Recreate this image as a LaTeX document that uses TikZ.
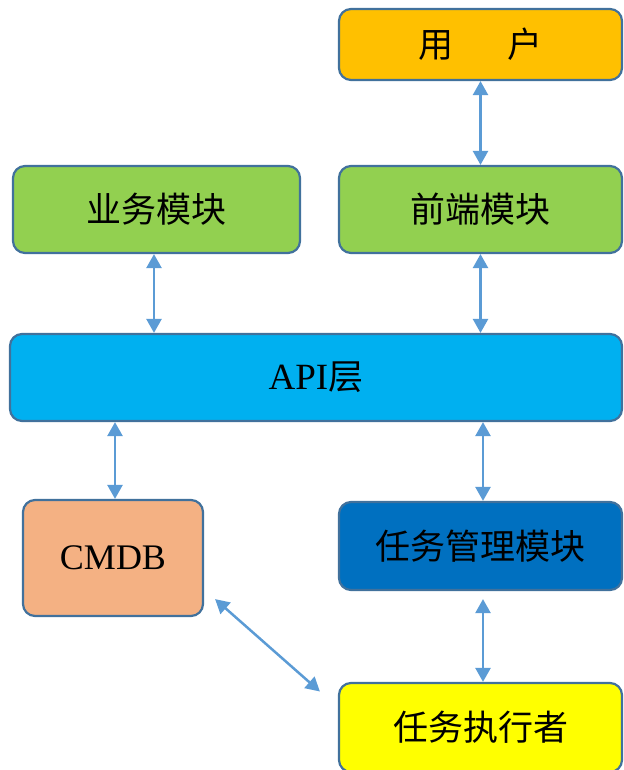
\documentclass[tikz,border=0pt]{standalone}
\usepackage{fontspec}
\setmainfont{Liberation Serif}
\newfontfamily\cjk{Noto Sans CJK SC}
\usetikzlibrary{arrows.meta,calc}
\definecolor{bord}{HTML}{41719C}
\definecolor{arr}{HTML}{5B9BD5}
\definecolor{cuser}{HTML}{FFC000}
\definecolor{cgreen}{HTML}{92D050}
\definecolor{capi}{HTML}{00B0F0}
\definecolor{ccmdb}{HTML}{F4B183}
\definecolor{ctask}{HTML}{0070C0}
\definecolor{cexec}{HTML}{FFFF00}
\tikzset{
  box/.style={draw=bord, line width=2.2pt, rounded corners=12pt, inner sep=0pt,
    font=\cjk\fontsize{35}{40}\selectfont, text=black},
  link/.style={draw=arr, line width=2.5pt, {Triangle[width=15pt,length=14pt]}-{Triangle[width=15pt,length=14pt]}}
}
\begin{document}
\begin{tikzpicture}[x=1pt,y=-1pt]
\useasboundingbox (0,0) rectangle (623,770);
\node[box, fill=cuser, minimum width=283pt, minimum height=71pt] (user) at (480.5,44.5) {用\hspace{1.55em}户\hspace{42pt}};
\node[box, fill=cgreen, minimum width=287pt, minimum height=87pt] (biz) at (156.5,209.5) {业务模块};
\node[box, fill=cgreen, minimum width=283pt, minimum height=87pt] (front) at (480.5,209.5) {前端模块};
\node[box, fill=capi, minimum width=612pt, minimum height=87pt] (api) at (316,377.5) {{\rmfamily\fontsize{37}{42}\selectfont API}层};
\node[box, fill=ccmdb, minimum width=180pt, minimum height=116pt] (cmdb) at (113,558) {\rmfamily\fontsize{36}{40}\selectfont CMDB\hspace{8pt}};
\node[box, fill=ctask, minimum width=283pt, minimum height=88pt] (task) at (480.5,546) {任务管理模块};
\node[box, fill=cexec, minimum width=283pt, minimum height=89pt] (exec) at (480.5,727.5) {任务执行者};
\coordinate (d1) at ($(cmdb.south east)+(11,-18)$);
\coordinate (d2) at ($(exec.west)+(-18,-36)$);
\path[link] (user.south) -- (front.north);
\path[link] (biz.south -| 154,0) -- (api.north -| 154,0);
\path[link] (front.south) -- (api.north -| front.south);
\path[link] (api.south -| 115,0) -- (cmdb.north -| 115,0);
\path[link] (api.south -| 483,0) -- (task.north -| 483,0);
\path[link] ($(task.south -| 483,0)+(0,8)$) -- (exec.north -| 483,0);
\path[link] (d1) -- (d2);
\end{tikzpicture}
\end{document}
